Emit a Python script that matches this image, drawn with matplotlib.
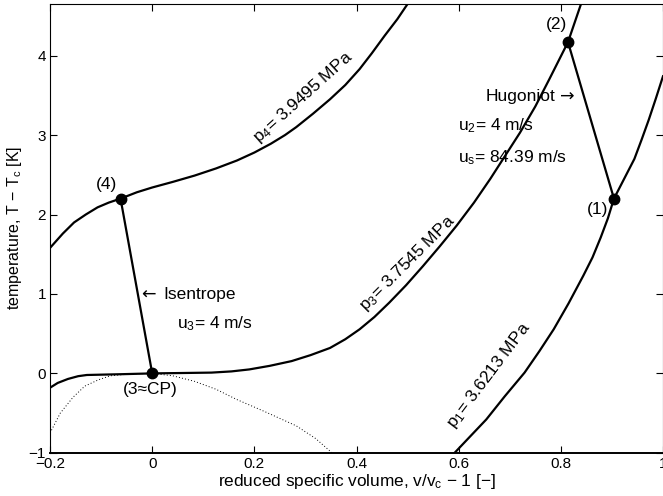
import matplotlib
matplotlib.use('Agg')
import matplotlib.pyplot as plt

plt.rcParams['font.family'] = ['Liberation Sans', 'DejaVu Sans']
plt.rcParams['mathtext.default'] = 'regular'
plt.rcParams['font.size'] = 11

# isobar p4 = 3.9495 MPa
p4_v = [-0.2, -0.175, -0.153, -0.13, -0.107, -0.085, -0.062, -0.03, 0.0, 0.04, 0.083,
        0.125, 0.166, 0.2, 0.232, 0.26, 0.282, 0.315, 0.348, 0.378, 0.406, 0.43, 0.455, 0.48, 0.501]
p4_T = [1.58, 1.76, 1.90, 2.00, 2.09, 2.15, 2.20, 2.28, 2.34, 2.41, 2.49,
        2.58, 2.68, 2.78, 2.89, 3.00, 3.10, 3.27, 3.45, 3.63, 3.83, 4.03, 4.25, 4.46, 4.66]

# isobar p3 = 3.7545 MPa
p3_v = [-0.2, -0.185, -0.165, -0.145, -0.128, -0.06, 0.0, 0.06, 0.116, 0.155, 0.19, 0.23,
        0.273, 0.31, 0.348, 0.378, 0.406, 0.435, 0.464, 0.497, 0.53, 0.563, 0.596, 0.63,
        0.662, 0.69, 0.72, 0.75, 0.778, 0.814, 0.84]
p3_T = [-0.18, -0.12, -0.07, -0.035, -0.02, -0.01, 0.0, 0.005, 0.01, 0.025, 0.05, 0.095,
        0.155, 0.23, 0.32, 0.43, 0.555, 0.71, 0.89, 1.11, 1.35, 1.60, 1.86, 2.15,
        2.45, 2.73, 3.03, 3.36, 3.71, 4.17, 4.66]

# isobar p1 = 3.6213 MPa
p1_v = [0.592, 0.62, 0.654, 0.69, 0.729, 0.758, 0.786, 0.815, 0.844, 0.862, 0.878,
        0.892, 0.904, 0.924, 0.944, 0.958, 0.972, 0.986, 1.0]
p1_T = [-1.0, -0.81, -0.58, -0.29, 0.01, 0.28, 0.555, 0.88, 1.23, 1.46, 1.71,
        1.95, 2.20, 2.45, 2.70, 2.94, 3.19, 3.46, 3.74]

# saturation dome (dotted)
sat_v = [-0.2, -0.18, -0.155, -0.132, -0.105, -0.082, -0.04, 0.0, 0.04, 0.083, 0.125,
         0.166, 0.22, 0.282, 0.32, 0.352]
sat_T = [-0.75, -0.5, -0.3, -0.16, -0.08, -0.03, -0.005, 0.0, -0.03, -0.1, -0.2,
         -0.33, -0.48, -0.66, -0.82, -1.0]

# states (1)-(4)
state_v = [0.904, 0.814, 0.0, -0.062]
state_T = [2.20, 4.17, 0.0, 2.20]

fig = plt.figure(figsize=(6.63, 4.96), dpi=100)
ax = fig.add_axes([0.0755, 0.087, 0.9245, 0.905])

lw = 1.6
ax.plot(p4_v, p4_T, 'k-', lw=lw)
ax.plot(p3_v, p3_T, 'k-', lw=lw)
ax.plot(p1_v, p1_T, 'k-', lw=lw)
ax.plot(sat_v, sat_T, color='k', ls=(0, (1, 2.2)), lw=0.7)

# Hugoniot (1)-(2) and isentrope (4)-(3)
ax.plot(state_v[:2], state_T[:2], 'k-', lw=lw)
ax.plot(state_v[2:], state_T[2:], 'k-', lw=lw)
ax.plot(state_v, state_T, 'ko', ms=7.5, ls='none')

fs = 12.5
ax.text(0.872, 2.06, '(1)', ha='center', va='center', fontsize=fs)
ax.text(0.792, 4.39, '(2)', ha='center', va='center', fontsize=fs)
ax.text(-0.004, -0.2, '(3≈CP)', ha='center', va='center', fontsize=fs)
ax.text(-0.09, 2.38, '(4)', ha='center', va='center', fontsize=fs)

# arrows drawn in DejaVu Sans (wider glyph than Liberation)
ax.text(-0.021, 0.99, '←', ha='left', va='center', fontsize=fs, family='DejaVu Sans')
ax.text(0.022, 0.99, 'Isentrope', ha='left', va='center', fontsize=fs)
ax.text(0.048, 0.62, 'u$_3$= 4 m/s', ha='left', va='center', fontsize=fs)
ax.text(0.652, 3.48, 'Hugoniot', ha='left', va='center', fontsize=fs)
ax.text(0.799, 3.48, '→', ha='left', va='center', fontsize=fs, family='DejaVu Sans')
ax.text(0.598, 3.12, 'u$_2$= 4 m/s', ha='left', va='center', fontsize=fs)
ax.text(0.598, 2.72, 'u$_s$= 84.39 m/s', ha='left', va='center', fontsize=fs)

ax.text(0.296, 3.48, 'p$_4$= 3.9495 MPa', rotation=42, ha='center', va='center',
        rotation_mode='anchor', fontsize=fs)
ax.text(0.50, 1.39, 'p$_3$= 3.7545 MPa', rotation=45, ha='center', va='center',
        rotation_mode='anchor', fontsize=fs)
ax.text(0.66, -0.02, 'p$_1$= 3.6213 MPa', rotation=53, ha='center', va='center',
        rotation_mode='anchor', fontsize=fs)

ax.set_xlim(-0.2, 1.0)
ax.set_ylim(-1, 4.65)
ax.set_xticks([-0.2, 0, 0.2, 0.4, 0.6, 0.8, 1.0])
ax.set_xticklabels(['−0.2', '0', '0.2', '0.4', '0.6', '0.8', '1'])
ax.set_yticks([-1, 0, 1, 2, 3, 4])
ax.set_yticklabels(['−1', '0', '1', '2', '3', '4'])
ax.tick_params(direction='in', top=True, right=True, length=5, pad=3)
ax.spines['bottom'].set_linewidth(1.4)
ax.set_xlabel('reduced specific volume, v/v$_c$ − 1 [−]', labelpad=1, fontsize=12.4)
ax.set_ylabel('temperature, T − T$_c$ [K]', labelpad=3, fontsize=11.5)

fig.savefig('out.png', dpi=100)
